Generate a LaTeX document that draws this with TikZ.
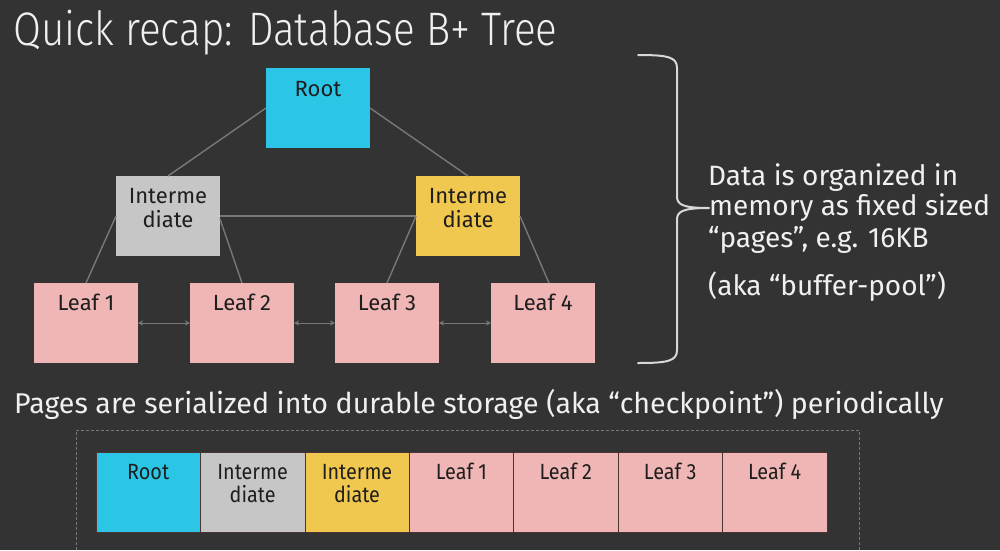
\documentclass[tikz,border=0pt]{standalone}
\usepackage{fontspec}
\setmainfont{Fira Sans}
\IfFontExistsTF{Fira Sans Light}{\newfontfamily\titlefont{Fira Sans Light}}{\newfontfamily\titlefont{Fira Sans}}
\usetikzlibrary{arrows.meta}
\definecolor{bg}{HTML}{333333}
\definecolor{cyanbox}{HTML}{2BC5E6}
\definecolor{graybox}{HTML}{C6C6C6}
\definecolor{yellowbox}{HTML}{F1C84F}
\definecolor{pinkbox}{HTML}{EFB6B5}
\definecolor{linec}{HTML}{787878}
\definecolor{txtlight}{HTML}{F0F0F0}
\definecolor{txtdark}{HTML}{1E1E1E}
\definecolor{cellline}{HTML}{4A3434}
\tikzset{
  page/.style={rectangle, inner sep=0pt, outer sep=0pt, minimum width=104pt, minimum height=80pt, anchor=north west},
  cell/.style={rectangle, inner sep=0pt, outer sep=0pt, minimum width=104.4pt, minimum height=80pt, anchor=north west, draw=cellline, line width=0.6pt},
  boxtxt/.style={inner sep=0pt, anchor=base, text=txtdark, font=\fontsize{22}{24}\selectfont},
  conn/.style={draw=linec, line width=1.4pt},
  sibling/.style={draw=linec, line width=1pt, {Stealth[length=5pt,width=5pt]}-{Stealth[length=5pt,width=5pt]}},
  sidetxt/.style={inner sep=0pt, anchor=base west, text=txtlight, font=\fontsize{28}{30}\selectfont},
}
\begin{document}
\begin{tikzpicture}[x=1pt,y=-1pt]
\fill[bg] (0,0) rectangle (1000,550);
\useasboundingbox (0,0) rectangle (1000,550);

% title
\node[inner sep=0pt, anchor=base west, text=txtlight, font=\titlefont\fontsize{47}{50}\selectfont] (title) at (13,45) {\scalebox{0.86}[1]{Quick recap: Database B+ Tree}};

% tree pages
\node[page, fill=cyanbox] (root) at (266,68) {};
\node[page, fill=graybox] (im1) at (116,176) {};
\node[page, fill=yellowbox] (im2) at (416,176) {};
\node[page, fill=pinkbox] (l1) at (34,283) {};
\node[page, fill=pinkbox] (l2) at (190,283) {};
\node[page, fill=pinkbox] (l3) at (335,283) {};
\node[page, fill=pinkbox] (l4) at (491,283) {};

\node[boxtxt] (rootT) at ([yshift=-28pt]root.north) {Root};
\node[boxtxt] (im1a) at ([yshift=-27pt]im1.north) {Interme};
\node[boxtxt] (im1b) at ([yshift=-51pt]im1.north) {diate};
\node[boxtxt] (im2a) at ([yshift=-27pt]im2.north) {Interme};
\node[boxtxt] (im2b) at ([yshift=-51pt]im2.north) {diate};
\node[boxtxt] (l1T) at ([yshift=-27pt]l1.north) {Leaf 1};
\node[boxtxt] (l2T) at ([yshift=-27pt]l2.north) {Leaf 2};
\node[boxtxt] (l3T) at ([yshift=-27pt]l3.north) {Leaf 3};
\node[boxtxt] (l4T) at ([yshift=-27pt]l4.north) {Leaf 4};

% connectors
\draw[conn] (root.west) -- (im1.north);
\draw[conn] (root.east) -- (im2.north);
\draw[conn] (im1.west) -- (l1.north);
\draw[conn] ([yshift=-3pt]im1.east) -- (l2.north);
\draw[conn] (im1.east) -- (im2.west);
\draw[conn] (im2.west) -- (l3.north);
\draw[conn] (im2.east) -- ([xshift=6pt]l4.north);
\draw[sibling] (l1.east) -- (l2.west);
\draw[sibling] (l2.east) -- (l3.west);
\draw[sibling] (l3.east) -- (l4.west);

% brace
\coordinate (bt) at (638,55);
\coordinate (bb) at (638,363);
\coordinate (tip) at (709,208);
\draw[draw=txtlight!90!black, line width=2pt, line cap=round, line join=round]
  (bt) .. controls (668,55) and (677,57) .. (677,68) -- (677,196)
  .. controls (677,204) and (681,208) .. (tip)
  .. controls (681,208) and (677,212) .. (677,220) -- (677,350)
  .. controls (677,361) and (668,363) .. (bb);

% side text
\node[sidetxt] (s1) at (708,185) {Data is organized in};
\node[sidetxt] (s2) at (709,215) {memory as fixed sized};
\node[sidetxt] (s3) at (708,247) {“pages”, e.g. 16KB};
\node[sidetxt] (s4) at (708,295) {(aka “buffer-pool”)};

% serialized caption
\node[inner sep=0pt, anchor=base west, text=txtlight, font=\fontsize{28.6}{32}\selectfont] (cap) at (14,413) {Pages are serialized into durable storage (aka “checkpoint”) periodically};

% dashed storage frame
\draw[draw=linec, line width=1pt, dash pattern=on 3pt off 2pt] (76,560) -- (76,430) -- (859,430) -- (859,560);

% serialized pages
\node[cell, fill=cyanbox] (c1) at (96,452) {};
\node[cell, fill=graybox] (c2) at (c1.north east) {};
\node[cell, fill=yellowbox] (c3) at (c2.north east) {};
\node[cell, fill=pinkbox] (c4) at (c3.north east) {};
\node[cell, fill=pinkbox] (c5) at (c4.north east) {};
\node[cell, fill=pinkbox] (c6) at (c5.north east) {};
\node[cell, fill=pinkbox] (c7) at (c6.north east) {};

\node[boxtxt] (c1T) at ([yshift=-27pt]c1.north) {\scalebox{0.9}[1]{Root}};
\node[boxtxt] (c2a) at ([yshift=-27pt]c2.north) {\scalebox{0.9}[1]{Interme}};
\node[boxtxt] (c2b) at ([yshift=-50pt]c2.north) {\scalebox{0.9}[1]{diate}};
\node[boxtxt] (c3a) at ([yshift=-27pt]c3.north) {\scalebox{0.9}[1]{Interme}};
\node[boxtxt] (c3b) at ([yshift=-50pt]c3.north) {\scalebox{0.9}[1]{diate}};
\node[boxtxt] (c4T) at ([yshift=-27pt]c4.north) {\scalebox{0.9}[1]{Leaf 1}};
\node[boxtxt] (c5T) at ([yshift=-27pt]c5.north) {\scalebox{0.9}[1]{Leaf 2}};
\node[boxtxt] (c6T) at ([yshift=-27pt]c6.north) {\scalebox{0.9}[1]{Leaf 3}};
\node[boxtxt] (c7T) at ([yshift=-27pt]c7.north) {\scalebox{0.9}[1]{Leaf 4}};
\end{tikzpicture}
\end{document}
